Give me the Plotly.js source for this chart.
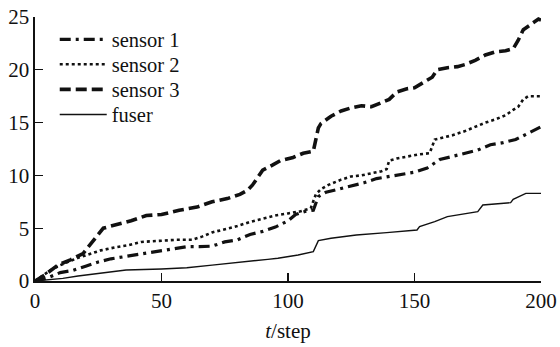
<!DOCTYPE html>
<html>
<head>
<meta charset="utf-8">
<script src="https://cdn.plot.ly/plotly-3.0.1.min.js"></script>
<style>html,body{margin:0;padding:0;background:#fff;}#chart{width:560px;height:347px;}</style>
</head>
<body>
<div id="chart"></div>
<script>
// sensor 1 (dash-dot)
const t1 = [0, 5, 10, 15, 20, 25, 30, 35, 40, 45, 50, 55, 60, 65, 70, 75, 80, 85, 90, 95, 100, 103, 107, 110, 111, 112, 115, 120, 125, 130, 135, 140, 145, 150, 155, 158, 160, 165, 170, 175, 180, 185, 190, 195, 200];
const y1 = [0, 0.3, 0.8, 1.0, 1.4, 1.8, 2.1, 2.3, 2.5, 2.7, 2.9, 3.1, 3.25, 3.25, 3.3, 3.7, 3.9, 4.4, 4.7, 5.1, 5.7, 6.3, 6.6, 6.7, 7.4, 8.0, 8.4, 8.7, 9.0, 9.3, 9.7, 9.9, 10.1, 10.3, 10.7, 11.2, 11.5, 11.8, 12.1, 12.4, 12.9, 13.1, 13.4, 14.0, 14.6];
// sensor 2 (dotted)
const t2 = [0, 3, 6, 10, 13, 17, 21, 26, 32, 37, 42, 50, 56, 62, 66, 70, 75, 80, 85, 90, 95, 100, 105, 109, 110, 111, 113, 116, 121, 125, 129, 133, 137, 139, 140, 143, 147, 152, 156, 157, 158, 160, 165, 170, 174, 178, 182, 186, 189, 191, 193, 195, 200];
const y2 = [0, 0.5, 1.0, 1.5, 1.8, 2.2, 2.5, 2.9, 3.2, 3.4, 3.7, 3.8, 3.9, 3.9, 4.2, 4.6, 4.9, 5.2, 5.6, 5.9, 6.2, 6.4, 6.6, 6.9, 7.5, 8.2, 8.7, 9.1, 9.6, 9.9, 10.0, 10.2, 10.4, 10.6, 11.4, 11.6, 11.8, 12.0, 12.1, 12.8, 13.4, 13.5, 13.8, 14.2, 14.6, 15.0, 15.3, 15.7, 16.2, 16.5, 17.2, 17.5, 17.5];
// sensor 3 (dashed)
const t3 = [0, 4, 9, 14, 19, 22, 25, 27, 30, 33, 38, 44, 50, 57, 64, 70, 76, 81, 84, 86, 88, 90, 94, 97, 102, 106, 110, 111, 112, 113, 117, 121, 125, 129, 133, 137, 140, 143, 147, 150, 154, 157, 159, 163, 167, 170, 174, 178, 182, 186, 189, 191, 193, 195, 197, 199, 200];
const y3 = [0, 0.6, 1.5, 2.0, 2.6, 3.5, 4.3, 5.0, 5.2, 5.4, 5.7, 6.2, 6.3, 6.7, 7.0, 7.5, 7.8, 8.2, 8.6, 9.1, 9.8, 10.5, 11.0, 11.4, 11.7, 12.1, 12.3, 13.5, 14.5, 14.9, 15.6, 16.1, 16.4, 16.6, 16.5, 16.9, 17.2, 17.9, 18.2, 18.3, 18.9, 19.3, 20.0, 20.2, 20.3, 20.5, 20.9, 21.4, 21.7, 21.8, 22.0, 22.8, 23.8, 24.1, 24.4, 24.8, 24.7];
// fuser (solid)
const t4 = [0, 5, 11, 17, 26, 36, 50, 60, 70, 81, 92, 96, 104, 110, 111, 112, 117, 127, 139, 151, 152, 158, 163, 170, 175, 177, 188, 189, 194, 200];
const y4 = [0, 0.1, 0.25, 0.47, 0.73, 1.04, 1.14, 1.26, 1.5, 1.74, 2.05, 2.15, 2.46, 2.78, 3.3, 3.82, 4.05, 4.36, 4.58, 4.83, 5.15, 5.62, 6.1, 6.35, 6.57, 7.2, 7.42, 7.74, 8.3, 8.3];

const names = ["sensor 1", "sensor 2", "sensor 3", "fuser"];
const xTicks = [0, 50, 100, 150, 200];
const yTicks = [0, 5, 10, 15, 20, 25];

const FONT = "Liberation Serif";

const traces = [
  {x: t1, y: y1, name: names[0], legend: "legend", mode: "lines", line: {color: "#111", width: 3.2, dash: "11px,5px,3px,5px"}},
  {x: t2, y: y2, name: names[1], legend: "legend2", mode: "lines", line: {color: "#111", width: 2.6, dash: "dot"}},
  {x: t3, y: y3, name: names[2], legend: "legend3", mode: "lines", line: {color: "#111", width: 3.6, dash: "11px,5px"}},
  {x: t4, y: y4, name: names[3], legend: "legend4", mode: "lines", line: {color: "#111", width: 1.4}}
];

function leg(y) {
  return {x: 0.039, y: y, xanchor: "left", yanchor: "top", bgcolor: "rgba(0,0,0,0)", itemwidth: 47,
          font: {family: FONT, size: 20.5, color: "#111"}};
}

const layout = {
  width: 560, height: 347,
  margin: {l: 35, r: 19, t: 17, b: 66},
  paper_bgcolor: "#fff", plot_bgcolor: "#fff",
  font: {family: FONT, size: 21, color: "#111"},
  showlegend: true,
  legend: leg(0.99), legend2: leg(0.896), legend3: leg(0.801), legend4: leg(0.706),
  xaxis: {range: [0, 200], tickvals: xTicks, ticktext: xTicks.map(String), ticks: "inside", ticklen: 8,
          tickwidth: 1.2, tickcolor: "#111", showline: true, linecolor: "#111", linewidth: 1.6,
          showgrid: false, zeroline: false, mirror: false,
          title: {text: "<i>t</i>/step", font: {family: FONT, size: 21}, standoff: 11}},
  yaxis: {range: [0, 25], tickvals: yTicks, ticktext: yTicks.map(String), ticks: "inside", ticklen: 8,
          tickwidth: 1.2, tickcolor: "#111", showline: true, linecolor: "#111", linewidth: 1.6,
          showgrid: false, zeroline: false, mirror: false}
};

Plotly.newPlot("chart", traces, layout, {displayModeBar: false, staticPlot: true});
</script>
</body>
</html>
